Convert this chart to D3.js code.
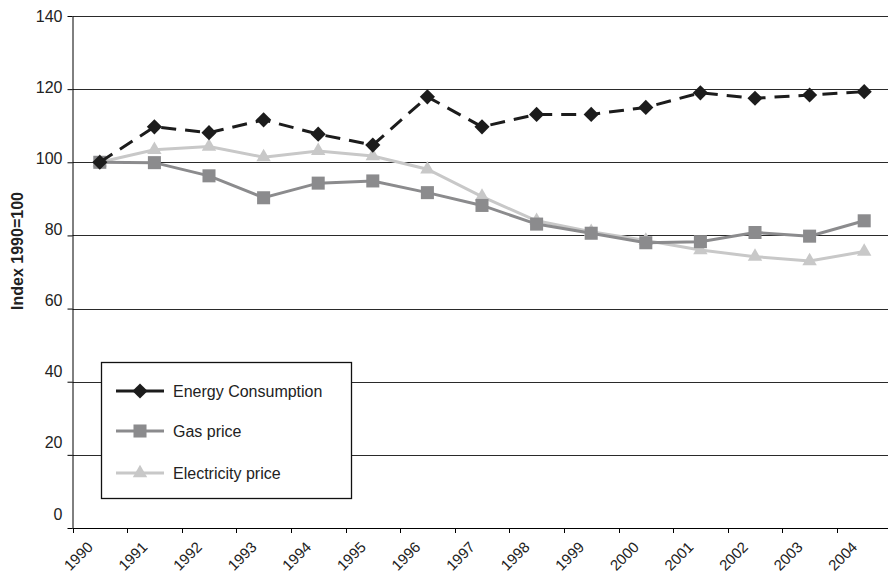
<!DOCTYPE html>
<html>
<head>
<meta charset="utf-8">
<script src="https://cdn.jsdelivr.net/npm/d3@7"></script>
<style>
  body { margin: 0; background: #fff; }
  svg { display: block; font-family: "Liberation Sans", Arial, sans-serif; }
</style>
</head>
<body>
<svg id="chart" width="888" height="574"></svg>
<script>
// Data
var years = ["1990", "1991", "1992", "1993", "1994", "1995", "1996", "1997",
             "1998", "1999", "2000", "2001", "2002", "2003", "2004"];
var energyConsumption = [100, 109.7, 108.1, 111.6, 107.7, 104.7, 117.9, 109.7,
                         113.1, 113.1, 115.0, 119.0, 117.5, 118.4, 119.3];
var gasPrice = [100, 99.9, 96.3, 90.3, 94.3, 94.9, 91.7, 88.2,
                83.1, 80.6, 78.0, 78.3, 80.8, 79.8, 84.0];
var electricityPrice = [100, 103.4, 104.3, 101.4, 103.1, 101.7, 98.1, 90.6,
                        84.0, 81.0, 78.6, 76.0, 74.2, 73.0, 75.6];
var yTicks = [0, 20, 40, 60, 80, 100, 120, 140];
var seriesNames = ["Energy Consumption", "Gas price", "Electricity price"];

var series = [
  { name: seriesNames[0], values: energyConsumption, color: "#1c1c1c", dash: "15,9", symbol: "diamond" },
  { name: seriesNames[1], values: gasPrice, color: "#8b8b8d", dash: null, symbol: "square" },
  { name: seriesNames[2], values: electricityPrice, color: "#c8c8c8", dash: null, symbol: "triangle" }
];

var svg = d3.select("#chart");
var plotLeft = 72.5, plotRight = 891.5, plotTop = 16, plotBottom = 528;

var x = d3.scaleBand()
  .domain(years)
  .range([plotLeft, plotRight]);

var y = d3.scaleLinear()
  .domain([0, 140])
  .range([plotBottom, plotTop]);

function cx(i) { return x(years[i]) + x.bandwidth() / 2; }

// Gridlines
svg.append("g")
  .selectAll("line")
  .data(yTicks.filter(d => d > 0))
  .enter().append("line")
  .attr("x1", plotLeft).attr("x2", 888)
  .attr("y1", d => Math.round(y(d)) + 0.5)
  .attr("y2", d => Math.round(y(d)) + 0.5)
  .attr("stroke", "#2a2a2a")
  .attr("stroke-width", 1);

// Y axis
var yAxis = svg.append("g")
  .attr("transform", "translate(" + plotLeft + ",0)")
  .call(d3.axisLeft(y).tickValues(yTicks).tickSize(5).tickPadding(5).tickSizeOuter(0));
yAxis.select(".domain").attr("stroke", "#000");
yAxis.selectAll(".tick line").attr("stroke", "#000");
// labels in the original drift slightly upward towards the bottom
yAxis.selectAll(".tick text")
  .attr("font-size", 16)
  .attr("font-family", "Liberation Sans, Arial, sans-serif")
  .attr("fill", "#222")
  .attr("dy", d => (0.34 - (140 - d) / 140 * 0.9) + "em");

// X axis
var xAxis = svg.append("g");
xAxis.append("line")
  .attr("x1", plotLeft).attr("x2", 888)
  .attr("y1", plotBottom + 0.5).attr("y2", plotBottom + 0.5)
  .attr("stroke", "#000");
xAxis.selectAll(".xtick")
  .data(years.concat(["end"]))
  .enter().append("line")
  .attr("class", "xtick")
  .attr("x1", (d, i) => Math.round(plotLeft + i * x.step()) + 0.5)
  .attr("x2", (d, i) => Math.round(plotLeft + i * x.step()) + 0.5)
  .attr("y1", plotBottom).attr("y2", plotBottom + 5)
  .attr("stroke", "#000");
xAxis.selectAll(".xlabel")
  .data(years)
  .enter().append("text")
  .attr("class", "xlabel")
  .attr("text-anchor", "end")
  .attr("font-size", 15)
  .attr("fill", "#222")
  .attr("transform", (d, i) => "translate(" + (cx(i) - 6) + "," + (plotBottom + 20) + ") rotate(-45)")
  .text(d => d);

// Y axis title
svg.append("text")
  .attr("transform", "translate(23,251) rotate(-90)")
  .attr("text-anchor", "middle")
  .attr("font-size", 16)
  .attr("font-weight", "bold")
  .attr("fill", "#222")
  .text("Index 1990=100");

var symbolPath = {
  diamond: d3.symbol().type(d3.symbolSquare).size(115)(),
  square: d3.symbol().type(d3.symbolSquare).size(170)(),
  triangle: d3.symbol().type(d3.symbolTriangle).size(90)()
};

function drawMarker(g, s, px, py) {
  g.append("path")
    .attr("d", symbolPath[s.symbol])
    .attr("fill", s.color)
    .attr("transform", "translate(" + px + "," + py + ")" + (s.symbol === "diamond" ? " rotate(45)" : ""));
}

var line = d3.line()
  .x((d, i) => cx(i))
  .y(d => y(d));

// draw light series first so darker ones sit on top
[series[2], series[1], series[0]].forEach(s => {
  var g = svg.append("g");
  g.append("path")
    .datum(s.values)
    .attr("d", line)
    .attr("fill", "none")
    .attr("stroke", s.color)
    .attr("stroke-width", 3)
    .attr("stroke-dasharray", s.dash);
  s.values.forEach((v, i) => drawMarker(g, s, cx(i), y(v)));
});

// Legend
var legend = svg.append("g");
legend.append("rect")
  .attr("x", 101.5).attr("y", 362.5)
  .attr("width", 250).attr("height", 136)
  .attr("fill", "#fff")
  .attr("stroke", "#111")
  .attr("stroke-width", 1.3);

var legendY = [391, 431, 473];
series.forEach((s, i) => {
  var g = legend.append("g");
  g.append("line")
    .attr("x1", 116).attr("x2", 164)
    .attr("y1", legendY[i]).attr("y2", legendY[i])
    .attr("stroke", s.color)
    .attr("stroke-width", 3);
  drawMarker(g, s, 140, legendY[i]);
  g.append("text")
    .attr("x", 173).attr("y", legendY[i])
    .attr("dy", "0.36em")
    .attr("font-size", 16)
    .attr("fill", "#222")
    .text(s.name);
});
</script>
</body>
</html>
